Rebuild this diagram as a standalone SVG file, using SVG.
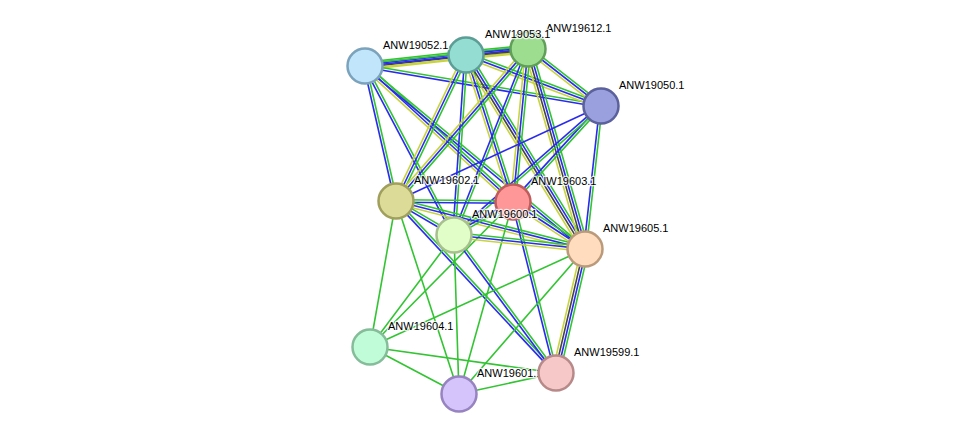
<svg xmlns="http://www.w3.org/2000/svg" width="975" height="440" viewBox="0 0 975 440">
<style>
#edges path{fill:none;stroke-width:1.6}
.g{stroke:#33c433}.b{stroke:#2a2aee}.y{stroke:#c8d43e}.k{stroke:#444}
.node circle{stroke-width:2.5}
.node text{font-family:"Liberation Sans",Arial,sans-serif;font-size:11px;fill:#000;stroke:#fff;stroke-width:2.5px;stroke-opacity:0.8;paint-order:stroke;stroke-linejoin:round}
</style>
<rect width="975" height="440" fill="#fff"/>
<g id="edges">
<g transform="translate(365 66) rotate(-6.22)"><path class="g" d="M0 -3.75H101.6"/><path class="b" d="M0 -1.25H101.6"/><path class="k" d="M0 1.25H101.6"/><path class="y" d="M0 3.75H101.6"/></g>
<g transform="translate(365 66) rotate(-5.95)"><path class="g" d="M0 -2.5H163.9"/><path class="b" d="M0 0H163.9"/><path class="y" d="M0 2.5H163.9"/></g>
<g transform="translate(365 66) rotate(9.62)"><path class="g" d="M0 -1.25H239.4"/><path class="b" d="M0 1.25H239.4"/></g>
<g transform="translate(365 66) rotate(77.07)"><path class="g" d="M0 -1.25H138.5"/><path class="b" d="M0 1.25H138.5"/></g>
<g transform="translate(365 66) rotate(62.22)"><path class="g" d="M0 -1.25H191"/><path class="b" d="M0 1.25H191"/></g>
<g transform="translate(365 66) rotate(42.58)"><path class="g" d="M0 -2.5H201"/><path class="b" d="M0 0H201"/><path class="y" d="M0 2.5H201"/></g>
<g transform="translate(365 66) rotate(39.75)"><path class="g" d="M0 -1.25H286.2"/><path class="b" d="M0 1.25H286.2"/></g>
<g transform="translate(466 55) rotate(-5.53)"><path class="g" d="M0 -3.75H62.3"/><path class="b" d="M0 -1.25H62.3"/><path class="k" d="M0 1.25H62.3"/><path class="y" d="M0 3.75H62.3"/></g>
<g transform="translate(466 55) rotate(20.69)"><path class="g" d="M0 -2.5H144.3"/><path class="b" d="M0 0H144.3"/><path class="y" d="M0 2.5H144.3"/></g>
<g transform="translate(466 55) rotate(115.62)"><path class="g" d="M0 -2.5H161.9"/><path class="b" d="M0 0H161.9"/><path class="y" d="M0 2.5H161.9"/></g>
<g transform="translate(466 55) rotate(93.81)"><path class="g" d="M0 -1.25H180.4"/><path class="b" d="M0 1.25H180.4"/></g>
<g transform="translate(466 55) rotate(72.27)"><path class="g" d="M0 -2.5H154.3"/><path class="b" d="M0 0H154.3"/><path class="y" d="M0 2.5H154.3"/></g>
<g transform="translate(466 55) rotate(58.48)"><path class="g" d="M0 -3.75H227.6"/><path class="b" d="M0 -1.25H227.6"/><path class="k" d="M0 1.25H227.6"/><path class="y" d="M0 3.75H227.6"/></g>
<g transform="translate(528 49) rotate(37.98)"><path class="g" d="M0 -2.5H92.6"/><path class="b" d="M0 0H92.6"/><path class="y" d="M0 2.5H92.6"/></g>
<g transform="translate(528 49) rotate(130.97)"><path class="g" d="M0 -2.5H201.3"/><path class="b" d="M0 0H201.3"/><path class="y" d="M0 2.5H201.3"/></g>
<g transform="translate(528 49) rotate(111.7)"><path class="g" d="M0 -1.25H200.2"/><path class="b" d="M0 1.25H200.2"/></g>
<g transform="translate(528 49) rotate(95.6)"><path class="g" d="M0 -2.5H153.7"/><path class="b" d="M0 0H153.7"/><path class="y" d="M0 2.5H153.7"/></g>
<g transform="translate(528 49) rotate(74.09)"><path class="g" d="M0 -3.75H208"/><path class="b" d="M0 -1.25H208"/><path class="k" d="M0 1.25H208"/><path class="y" d="M0 3.75H208"/></g>
<g transform="translate(601 106) rotate(155.14)"><path class="b" d="M0 0H225.9"/></g>
<g transform="translate(601 106) rotate(132.51)"><path class="g" d="M0 -1.25H130.2"/><path class="b" d="M0 1.25H130.2"/></g>
<g transform="translate(601 106) rotate(138.73)"><path class="g" d="M0 -1.25H195.6"/><path class="b" d="M0 1.25H195.6"/></g>
<g transform="translate(601 106) rotate(96.38)"><path class="g" d="M0 -1.25H143.9"/><path class="b" d="M0 1.25H143.9"/></g>
<g transform="translate(396 201) rotate(0.49)"><path class="g" d="M0 -1.25H117"/><path class="b" d="M0 1.25H117"/></g>
<g transform="translate(396 201) rotate(30.38)"><path class="g" d="M0 -1.25H67.2"/><path class="b" d="M0 1.25H67.2"/></g>
<g transform="translate(396 201) rotate(14.25)"><path class="g" d="M0 -2.5H195"/><path class="b" d="M0 0H195"/><path class="y" d="M0 2.5H195"/></g>
<g transform="translate(396 201) rotate(100.1)"><path class="g" d="M0 0H148.3"/></g>
<g transform="translate(396 201) rotate(71.92)"><path class="g" d="M0 0H203"/></g>
<g transform="translate(396 201) rotate(47.07)"><path class="g" d="M0 -1.25H234.9"/><path class="b" d="M0 1.25H234.9"/></g>
<g transform="translate(513 202) rotate(150.79)"><path class="g" d="M0 -1.25H67.6"/><path class="b" d="M0 1.25H67.6"/></g>
<g transform="translate(513 202) rotate(33.13)"><path class="g" d="M0 -2.5H86"/><path class="b" d="M0 0H86"/><path class="y" d="M0 2.5H86"/></g>
<g transform="translate(513 202) rotate(134.6)"><path class="g" d="M0 0H203.7"/></g>
<g transform="translate(513 202) rotate(105.71)"><path class="g" d="M0 0H199.4"/></g>
<g transform="translate(513 202) rotate(75.88)"><path class="g" d="M0 -1.25H176.3"/><path class="b" d="M0 1.25H176.3"/></g>
<g transform="translate(454 235) rotate(6.1)"><path class="g" d="M0 -2.5H131.7"/><path class="b" d="M0 0H131.7"/><path class="y" d="M0 2.5H131.7"/></g>
<g transform="translate(454 235) rotate(126.87)"><path class="g" d="M0 0H140"/></g>
<g transform="translate(454 235) rotate(88.2)"><path class="g" d="M0 0H159.1"/></g>
<g transform="translate(454 235) rotate(53.53)"><path class="g" d="M0 -1.25H171.6"/><path class="b" d="M0 1.25H171.6"/></g>
<g transform="translate(585 249) rotate(103.16)"><path class="g" d="M0 -3.75H127.3"/><path class="b" d="M0 -1.25H127.3"/><path class="k" d="M0 1.25H127.3"/><path class="y" d="M0 3.75H127.3"/></g>
<g transform="translate(585 249) rotate(155.5)"><path class="g" d="M0 0H236.3"/></g>
<g transform="translate(585 249) rotate(131)"><path class="g" d="M0 0H192.1"/></g>
<g transform="translate(370 347) rotate(27.84)"><path class="g" d="M0 0H100.6"/></g>
<g transform="translate(370 347) rotate(7.96)"><path class="g" d="M0 0H187.8"/></g>
<g transform="translate(459 394) rotate(-12.22)"><path class="g" d="M0 0H99.2"/></g>
</g>
<g id="n19612" class="node"><circle cx="528" cy="49" r="17.5" fill="#9ddd90" stroke="#5f9f58"/><text x="546" y="32">ANW19612.1</text></g>
<g id="n19053" class="node"><circle cx="466" cy="55" r="17.5" fill="#93ddd3" stroke="#5c9e95"/><text x="485" y="38">ANW19053.1</text></g>
<g id="n19052" class="node"><circle cx="365" cy="66" r="17.5" fill="#c1e5fb" stroke="#7ba3bb"/><text x="383" y="49">ANW19052.1</text></g>
<g id="n19050" class="node"><circle cx="601" cy="106" r="17.5" fill="#99a0dd" stroke="#5a619c"/><text x="619" y="89">ANW19050.1</text></g>
<g id="n19602" class="node"><circle cx="396" cy="201" r="17.5" fill="#dcdb97" stroke="#a09f5c"/><text x="414" y="184">ANW19602.1</text></g>
<g id="n19603" class="node"><circle cx="513" cy="202" r="17.5" fill="#fe9797" stroke="#c05c5c"/><text x="531" y="185">ANW19603.1</text></g>
<g id="n19600" class="node"><circle cx="454" cy="235" r="17.5" fill="#e1fec9" stroke="#a7c08d"/><text x="472" y="218">ANW19600.1</text></g>
<g id="n19605" class="node"><circle cx="585" cy="249" r="17.5" fill="#fedcbd" stroke="#bb9a7c"/><text x="603" y="232">ANW19605.1</text></g>
<g id="n19604" class="node"><circle cx="370" cy="347" r="17.5" fill="#c1fcd8" stroke="#85bc9a"/><text x="388" y="330">ANW19604.1</text></g>
<g id="n19601" class="node"><circle cx="459" cy="394" r="17.5" fill="#d4c4fb" stroke="#9683bf"/><text x="477" y="377">ANW19601.1</text></g>
<g id="n19599" class="node"><circle cx="556" cy="373" r="17.5" fill="#f7c8c8" stroke="#b88989"/><text x="574" y="356">ANW19599.1</text></g>
</svg>
